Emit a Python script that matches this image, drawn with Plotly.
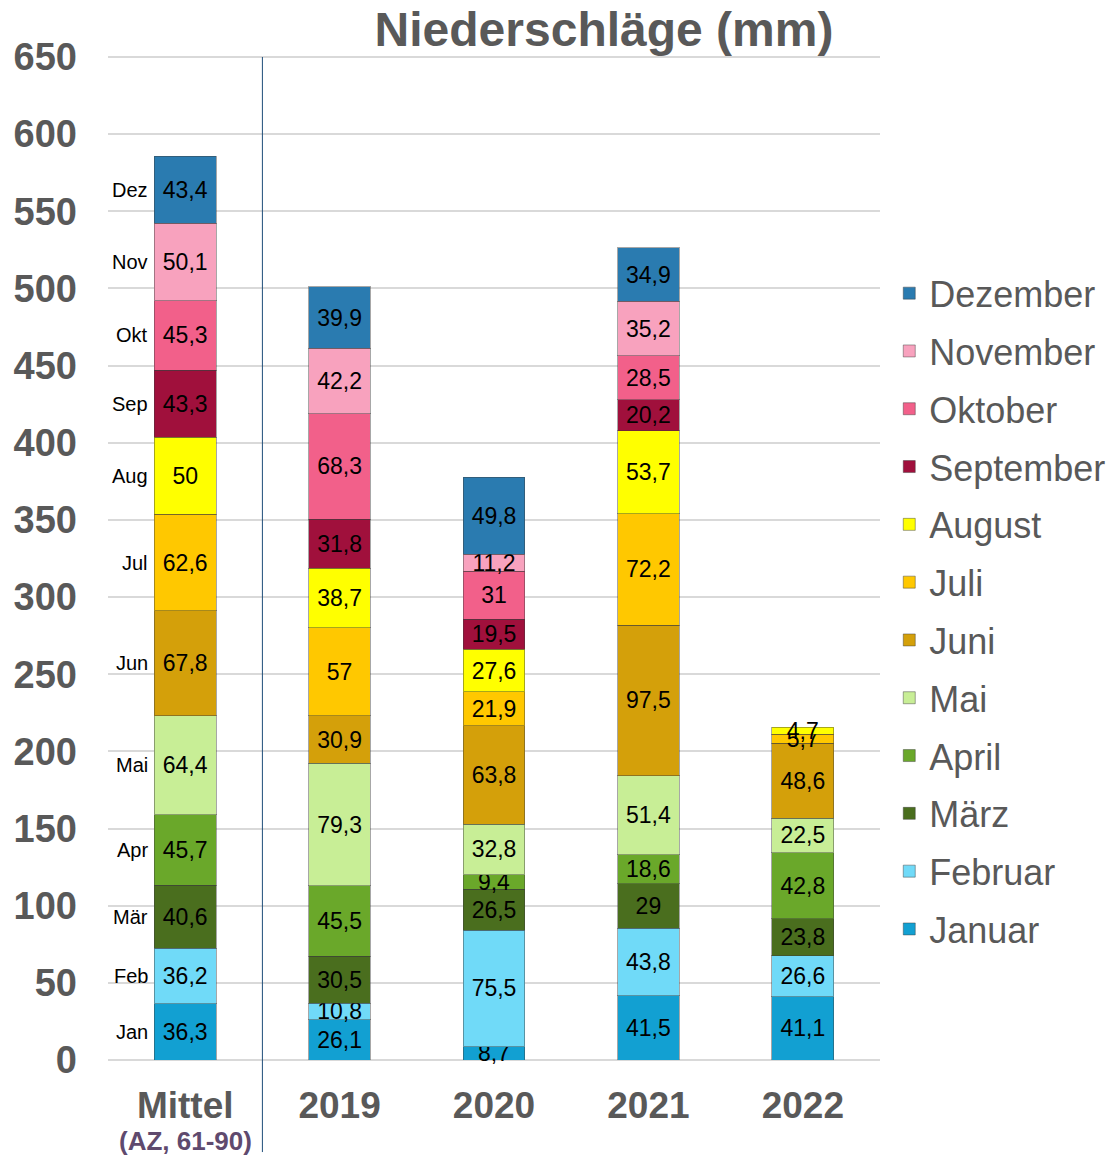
import plotly.graph_objects as go
import numpy as np

categories = ["Mittel", "2019", "2020", "2021", "2022"]
months = ["Januar", "Februar", "März", "April", "Mai", "Juni",
          "Juli", "August", "September", "Oktober", "November", "Dezember"]
month_short = ["Jan", "Feb", "Mär", "Apr", "Mai", "Jun",
               "Jul", "Aug", "Sep", "Okt", "Nov", "Dez"]

# values per month: [Mittel, 2019, 2020, 2021, 2022]
januar    = [36.3, 26.1, 8.7, 41.5, 41.1]
februar   = [36.2, 10.8, 75.5, 43.8, 26.6]
maerz     = [40.6, 30.5, 26.5, 29.0, 23.8]
april     = [45.7, 45.5, 9.4, 18.6, 42.8]
mai       = [64.4, 79.3, 32.8, 51.4, 22.5]
juni      = [67.8, 30.9, 63.8, 97.5, 48.6]
juli      = [62.6, 57.0, 21.9, 72.2, 5.7]
august    = [50.0, 38.7, 27.6, 53.7, 4.7]
september = [43.3, 31.8, 19.5, 20.2, None]
oktober   = [45.3, 68.3, 31.0, 28.5, None]
november  = [50.1, 42.2, 11.2, 35.2, None]
dezember  = [43.4, 39.9, 49.8, 34.9, None]

series = [januar, februar, maerz, april, mai, juni, juli, august,
          september, oktober, november, dezember]
colors = ["#12A0D2", "#70DAF8", "#4A6E1E", "#6AA82A", "#C8EE96", "#D4A00A",
          "#FFC800", "#FFFF00", "#A0103C", "#F2608A", "#F8A2BE", "#2A7BB0"]

y_ticks = list(range(0, 651, 50))

FONT = "Liberation Sans, Arial, sans-serif"
GRAY = "#595959"

# page body adds an 8px offset; figure is sized to fit the window
W, H = 1107, 1148
Y_MAX = 651.95

def fmt(v):
    return "" if v is None else f"{v:g}".replace(".", ",")

fig = go.Figure()
n = len(months)
for i, (name, vals, col) in enumerate(zip(months, series, colors)):
    fig.add_trace(go.Bar(
        x=categories, y=vals, name=name,
        marker=dict(color=col, line=dict(color="rgba(60,60,60,0.45)", width=1)),
        text=[fmt(v) for v in vals],
        textposition="inside", insidetextanchor="middle", textangle=0,
        textfont=dict(family=FONT, size=23, color="black"),
        cliponaxis=False, legendgroup=name, legendrank=n - i,
    ))

# month abbreviations left of the Mittel bar
mittel_vals = [s[0] for s in series]
tops = np.cumsum(mittel_vals)
centers = tops - np.array(mittel_vals) / 2
for lab, c in zip(month_short, centers):
    fig.add_annotation(x=categories[0], y=c, text=lab, showarrow=False,
                       xanchor="right", xshift=-35,
                       font=dict(family=FONT, size=20, color="black"))

# subtitle under "Mittel"
fig.add_annotation(x=categories[0], y=-0.081, yref="paper", text="<b>(AZ, 61-90)</b>",
                   showarrow=False, yanchor="middle",
                   font=dict(family=FONT, size=26, color="#5F4A6E"))

# separator line
fig.add_shape(type="line", xref="x", yref="paper", x0=0.5, x1=0.5,
              y0=-0.0915, y1=650 / Y_MAX,
              line=dict(color="#1F4E79", width=1))

fig.update_layout(
    width=W, height=H,
    barmode="stack", bargap=0.6,
    plot_bgcolor="white", paper_bgcolor="white",
    margin=dict(l=100, r=235, t=46, b=96, autoexpand=False),
    title=dict(text="<b>Niederschläge (mm)</b>", x=596 / W, xanchor="center",
               y=1 - 21 / H, yanchor="middle",
               font=dict(family=FONT, size=48, color=GRAY)),
    uniformtext=dict(minsize=23, mode="show"),
    legend=dict(traceorder="grouped", tracegroupgap=8,
                x=1.012, xanchor="left", y=0.792, yanchor="top",
                font=dict(family=FONT, size=36, color=GRAY)),
    font=dict(family=FONT),
)
fig.update_xaxes(
    tickvals=categories, ticktext=["<b>" + c + "</b>" for c in categories],
    tickfont=dict(family=FONT, size=37, color=GRAY),
    ticklabelstandoff=20, showline=False,
)
fig.update_yaxes(
    range=[0, Y_MAX], tickvals=y_ticks, ticktext=["<b>%d</b>" % t for t in y_ticks],
    tickfont=dict(family=FONT, size=38, color=GRAY),
    showgrid=True, gridcolor="#D9D9D9", gridwidth=2, zeroline=True,
    zerolinecolor="#D9D9D9", zerolinewidth=2, ticklabelstandoff=30,
)

fig.write_html("out.html")
